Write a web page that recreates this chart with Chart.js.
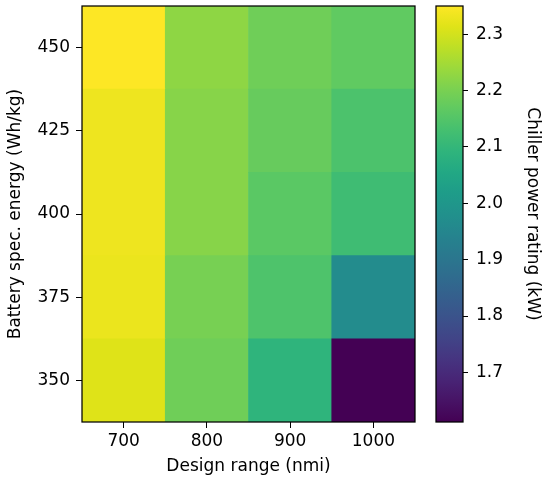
<!DOCTYPE html>
<html>
<head>
<meta charset="utf-8">
<script src="https://cdn.jsdelivr.net/npm/chart.js@4"></script>
<style>
    body { margin: 0; background: #ffffff; }
    #wrap { position: relative; width: 550px; height: 480px; }
    #heat-box { position: absolute; left: 0; top: 0; width: 430px; height: 480px; }
    #bar-box { position: absolute; left: 420px; top: 0; width: 130px; height: 480px; }
</style>
</head>
<body>
<div id="wrap">
    <div id="heat-box"><canvas id="heat-chart"></canvas></div>
    <div id="bar-box"><canvas id="color-bar"></canvas></div>
</div>
<script>
// datos de la grafica
const rangos = [700, 800, 900, 1000];
const energias = [350, 375, 400, 425, 450];
const potencia_350 = [2.313, 2.188, 2.092, 1.612];
const potencia_375 = [2.328, 2.199, 2.143, 1.966];
const potencia_400 = [2.332, 2.217, 2.160, 2.120];
const potencia_425 = [2.332, 2.217, 2.177, 2.140];
const potencia_450 = [2.350, 2.225, 2.188, 2.168];
const ticks_barra = [1.7, 1.8, 1.9, 2.0, 2.1, 2.2, 2.3];

const filas = [potencia_350, potencia_375, potencia_400, potencia_425, potencia_450];
const todos = filas.flat();
const v_min = Math.min(...todos);
const v_max = Math.max(...todos);
const paso = 25;
const tam = 17;

Chart.defaults.font.family = "'DejaVu Sans', sans-serif";
Chart.defaults.color = '#000000';

// viridis
const viridis = ['#440154','#471365','#482475','#463480','#414487','#3b528b','#355f8d','#2f6c8e','#2a788e','#25848e',
    '#21918c','#1e9c89','#22a884','#2fb47c','#44bf70','#5ec962','#7ad151','#9bd93c','#bddf26','#dfe318','#fde725'];

const hex_rgb = (h) => [parseInt(h.slice(1,3),16), parseInt(h.slice(3,5),16), parseInt(h.slice(5,7),16)];

const color_viridis = (v) => {
    let t = (v - v_min) / (v_max - v_min);
    t = Math.max(0, Math.min(1, t)) * (viridis.length - 1);
    const i = Math.min(Math.floor(t), viridis.length - 2);
    const f = t - i;
    const a = hex_rgb(viridis[i]), b = hex_rgb(viridis[i + 1]);
    const c = a.map((x, k) => Math.round(x + (b[k] - x) * f));
    return 'rgb(' + c.join(',') + ')';
};

const marco = {
    id: 'marco',
    afterDatasetsDraw: (chart) => {
        const {ctx, chartArea} = chart;
        ctx.save();
        ctx.strokeStyle = '#000000';
        ctx.lineWidth = 1.25;
        ctx.strokeRect(chartArea.left, chartArea.top, chartArea.right - chartArea.left, chartArea.bottom - chartArea.top);
        ctx.restore();
    }
};

const sin_relleno = (scale) => {
    scale.paddingTop = 0;
    scale.paddingBottom = 0;
};

document.addEventListener("DOMContentLoaded", function(event) {
    build_heatmap(document.getElementById("heat-chart"));
    build_color_bar(document.getElementById("color-bar"));
});

const build_heatmap = (id_canvas) => {
    try{
        new Chart(id_canvas, {
            type: 'bar',
            plugins: [marco],
            data: {
                labels: rangos.map(String),
                datasets: energias.map((e, j) => ({
                    label: String(e),
                    data: rangos.map(() => [e - paso / 2, e + paso / 2]),
                    backgroundColor: filas[j].map(color_viridis),
                    borderWidth: 0,
                    barPercentage: 1,
                    categoryPercentage: 1,
                    grouped: false
                }))
            },
            options: {
                responsive: true,
                maintainAspectRatio: false,
                animation: false,
                layout: { padding: { top: 6, right: 15, left: 0, bottom: 0 } },
                plugins: { legend: { display: false }, tooltip: { enabled: false } },
                scales: {
                    x: {
                        type: 'category',
                        grid: { drawOnChartArea: false, offset: false, tickLength: 6, color: '#000000', tickWidth: 1 },
                        border: { display: false },
                        ticks: { font: { size: tam }, padding: 3, maxRotation: 0 },
                        title: { display: true, text: 'Design range (nmi)', font: { size: tam }, padding: { top: 4, bottom: 3 } },
                        afterFit: (scale) => { scale.height = 58; }
                    },
                    y: {
                        type: 'linear',
                        min: energias[0] - paso / 2,
                        max: energias[energias.length - 1] + paso / 2,
                        grid: { drawOnChartArea: false, tickLength: 6, color: '#000000', tickWidth: 1 },
                        border: { display: false },
                        ticks: { font: { size: tam }, padding: 6 },
                        afterBuildTicks: (scale) => { scale.ticks = energias.map(v => ({ value: v })); },
                        title: { display: true, text: 'Battery spec. energy (Wh/kg)', font: { size: tam }, padding: { top: 5, bottom: 4 } },
                        afterFit: (scale) => { scale.width = 82; sin_relleno(scale); }
                    }
                }
            }
        });
    }catch(e){
        console.error("Ocurrio un error", e);
    }
}

const build_color_bar = (id_canvas) => {
    try{
        new Chart(id_canvas, {
            type: 'bar',
            plugins: [marco],
            data: {
                labels: [''],
                datasets: [{
                    data: [[v_min, v_max]],
                    backgroundColor: (context) => {
                        const area = context.chart.chartArea;
                        if (!area) return null;
                        const g = context.chart.ctx.createLinearGradient(0, area.bottom, 0, area.top);
                        viridis.forEach((c, i) => g.addColorStop(i / (viridis.length - 1), c));
                        return g;
                    },
                    borderWidth: 0,
                    barPercentage: 1,
                    categoryPercentage: 1
                }]
            },
            options: {
                responsive: true,
                maintainAspectRatio: false,
                animation: false,
                layout: { padding: { top: 6, right: 0, left: 16, bottom: 58 } },
                plugins: { legend: { display: false }, tooltip: { enabled: false } },
                scales: {
                    x: { display: false },
                    y: {
                        type: 'linear',
                        position: 'right',
                        min: v_min,
                        max: v_max,
                        grid: { drawOnChartArea: false, tickLength: 5, color: '#000000', tickWidth: 1 },
                        border: { display: false },
                        ticks: { font: { size: tam }, padding: 8, callback: (v) => Number(v).toFixed(1) },
                        afterBuildTicks: (scale) => { scale.ticks = ticks_barra.map(v => ({ value: v })); },
                        title: { display: true, text: 'Chiller power rating (kW)', font: { size: tam }, padding: { top: 7, bottom: 4 } },
                        afterFit: (scale) => { scale.width = 87; sin_relleno(scale); }
                    }
                }
            }
        });
    }catch(e){
        console.error("Ocurrio un error", e);
    }
}
</script>
</body>
</html>
